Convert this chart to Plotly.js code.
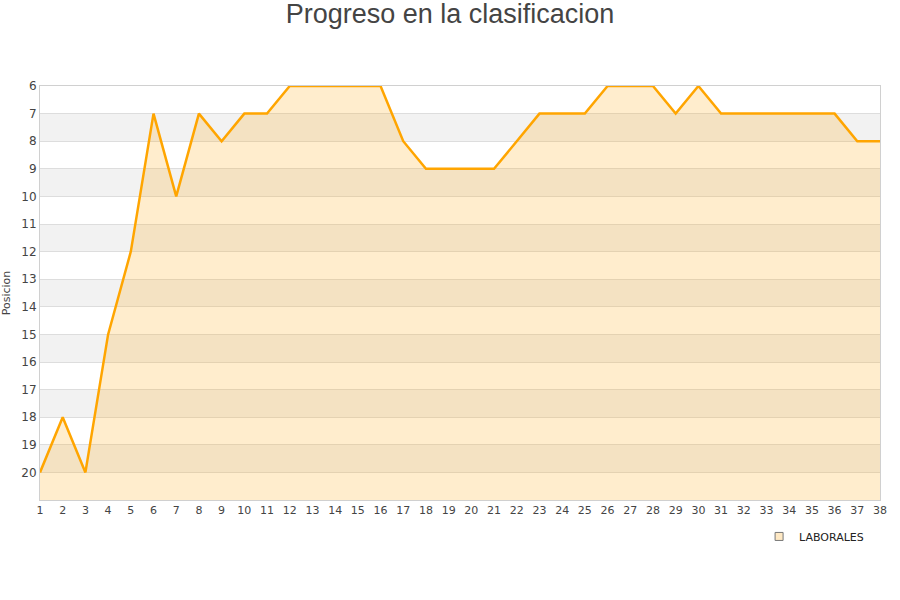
<!DOCTYPE html>
<html><head><meta charset="utf-8">
<script src="https://cdn.plot.ly/plotly-3.0.1.min.js"></script>
<style>body{margin:0}#c{width:900px;height:600px}</style>
</head><body><div id="c"></div>
<script>
const jornadas = Array.from({length:38},(_,i)=>i+1);
const posiciones = [20,18,20,15,12,7,10,7,8,7,7,6,6,6,6,6,8,9,9,9,9,8,7,7,7,6,6,6,7,6,7,7,7,7,7,7,8,8];
const serieNombre = 'LABORALES';
const yTicks = [6,7,8,9,10,11,12,13,14,15,16,17,18,19,20];
const yMin = 6, yMax = 21;

const shapes = [];
for (let v = 7; v < yMax; v += 2) {
  shapes.push({type:'rect', xref:'paper', yref:'y', x0:0, x1:1, y0:v, y1:v+1,
    fillcolor:'#f2f2f2', line:{width:0}, layer:'below'});
}

const traces = [
  {x:jornadas, y:jornadas.map(()=>yMax), mode:'lines', line:{width:0}, showlegend:false, hoverinfo:'skip'},
  {x:jornadas, y:posiciones, mode:'lines', name:serieNombre, fill:'tonexty',
   fillcolor:'rgba(255,170,20,0.21)', line:{color:'#ffa500', width:2.5}, showlegend:false},
  {x:[null], y:[null], mode:'markers', name:serieNombre,
   marker:{symbol:'square', size:8, color:'#ffe9c4', line:{color:'#777', width:1}}}
];

const layout = {
  width:900, height:600,
  margin:{l:40, r:20, t:86, b:100},
  paper_bgcolor:'#fff', plot_bgcolor:'#fff',
  title:{text:'Progreso en la clasificacion', x:0.5, xanchor:'center', y:0.993, yanchor:'top',
    font:{family:'Liberation Sans, Arial, sans-serif', size:27, color:'#444'}},
  font:{family:'DejaVu Sans, sans-serif', color:'#444'},
  xaxis:{range:[1,38], tickmode:'array', tickvals:jornadas, ticktext:jornadas.map(String),
    showgrid:false, zeroline:false, showline:true, linecolor:'#d0d0d0', linewidth:1, mirror:true,
    tickfont:{size:11, color:'#444'}, ticks:'', fixedrange:true},
  yaxis:{range:[yMax, yMin], tickmode:'array', tickvals:yTicks, ticktext:yTicks.map(String),
    showgrid:true, gridcolor:'#dddddd', gridwidth:1, zeroline:false, showline:true, linecolor:'#d0d0d0', mirror:true,
    tickfont:{size:12, color:'#444'}, ticks:'', ticklen:0,
    title:{text:'Posicion', font:{size:11, color:'#444'}, standoff:14}},
  shapes:shapes,
  showlegend:true,
  legend:{x:0.987, xanchor:'right', y:-0.053, yanchor:'top', orientation:'h',
    font:{size:11, color:'#222'}, bgcolor:'rgba(0,0,0,0)', itemwidth:30},
};
Plotly.newPlot('c', traces, layout, {displayModeBar:false, staticPlot:true});
</script></body></html>
